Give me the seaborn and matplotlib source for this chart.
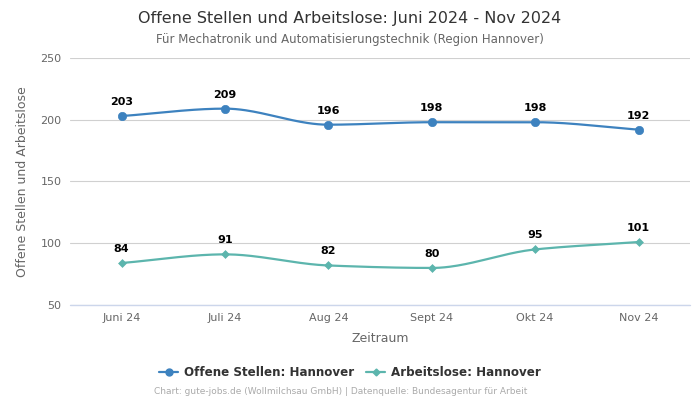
import numpy as np
import pandas as pd
import matplotlib
matplotlib.use("Agg")
import matplotlib.pyplot as plt
import seaborn as sns
from matplotlib.lines import Line2D

months = ["Juni 24", "Juli 24", "Aug 24", "Sept 24", "Okt 24", "Nov 24"]
offene = [203, 209, 196, 198, 198, 192]
arbeitslose = [84, 91, 82, 80, 95, 101]
series_names = ["Offene Stellen: Hannover", "Arbeitslose: Hannover"]
colors = ["#3d82bf", "#5cb5ad"]
markers = ["o", "D"]

sns.set_theme(style="white")
plt.rcParams['font.family'] = ['DejaVu Sans']

def pchip(x, y, n=40):
    x = np.asarray(x, float); y = np.asarray(y, float)
    h = np.diff(x); d = np.diff(y) / h
    m = np.zeros_like(y)
    for k in range(1, len(y) - 1):
        if d[k-1] * d[k] <= 0:
            m[k] = 0
        else:
            w1 = 2*h[k] + h[k-1]; w2 = h[k] + 2*h[k-1]
            m[k] = (w1 + w2) / (w1/d[k-1] + w2/d[k])
    m[0] = d[0]; m[-1] = d[-1]
    xs, ys = [], []
    for k in range(len(h)):
        t = np.linspace(0, 1, n, endpoint=(k == len(h)-1))
        h00 = 2*t**3 - 3*t**2 + 1; h10 = t**3 - 2*t**2 + t
        h01 = -2*t**3 + 3*t**2; h11 = t**3 - t**2
        xs.append(x[k] + t*h[k])
        ys.append(h00*y[k] + h10*h[k]*m[k] + h01*y[k+1] + h11*h[k]*m[k+1])
    return np.concatenate(xs), np.concatenate(ys)

fig = plt.figure(figsize=(7, 4), dpi=100)
ax = fig.add_axes([0.1, 0.2375, 0.886, 0.6175])

xpos = np.arange(len(months))
df = pd.DataFrame({
    "x": np.concatenate([xpos, xpos]),
    "value": offene + arbeitslose,
    "series": [series_names[0]]*len(months) + [series_names[1]]*len(months),
})

for i, (name, vals) in enumerate(zip(series_names, [offene, arbeitslose])):
    sx, sy = pchip(xpos, vals)
    ax.plot(sx, sy, color=colors[i], lw=1.6, zorder=3)
    sub = df[df.series == name]
    sns.scatterplot(data=sub, x="x", y="value", ax=ax, color=colors[i], marker=markers[i],
                    s=36 if i == 0 else 16, edgecolor=colors[i], linewidth=0.5, zorder=4, legend=False)
    for xv, v in zip(xpos, vals):
        ax.annotate(str(v), (xv, v), xytext=(0, 6.5), textcoords="offset points",
                    ha="center", va="bottom", fontsize=8, fontweight="bold", color="#000000")

ax.set_xlim(-0.5, 5.5)
ax.set_ylim(50, 250)
ax.set_yticks([50, 100, 150, 200, 250])
ax.set_xticks(xpos)
ax.set_xticklabels(months)
ax.tick_params(axis="both", labelsize=8, labelcolor="#666666", length=0, pad=6)
ax.grid(axis="y", color="#d0d0d0", lw=0.8)
ax.grid(axis="x", visible=False)
for s in ax.spines.values():
    s.set_visible(False)
ax.axhline(50, color="#ccd6eb", lw=1, zorder=2, clip_on=False)
ax.set_xlabel("Zeitraum", fontsize=9, color="#666666", labelpad=6)
ax.set_ylabel("Offene Stellen und Arbeitslose", fontsize=9, color="#666666", labelpad=8)

fig.text(0.5, 0.955, "Offene Stellen und Arbeitslose: Juni 2024 - Nov 2024", ha="center", va="center",
         fontsize=11.5, color="#333333")
fig.text(0.5, 0.9025, "Für Mechatronik und Automatisierungstechnik (Region Hannover)", ha="center",
         va="center", fontsize=8.5, color="#666666")

handles = [Line2D([0], [0], color=colors[0], marker="o", markersize=5, lw=1.6),
           Line2D([0], [0], color=colors[1], marker="D", markersize=3.5, lw=1.6)]
leg = fig.legend(handles, series_names, loc="center", bbox_to_anchor=(0.5, 0.0675), ncol=2,
                 frameon=False, fontsize=8.6, handlelength=1.6, columnspacing=1.0, handletextpad=0.5)
for t in leg.get_texts():
    t.set_fontweight("bold"); t.set_color("#333333")

fig.text(0.486, 0.02, "Chart: gute-jobs.de (Wollmilchsau GmbH) | Datenquelle: Bundesagentur für Arbeit",
         ha="center", va="center", fontsize=6.5, color="#aaaaaa")

fig.savefig("out.png", dpi=100)
